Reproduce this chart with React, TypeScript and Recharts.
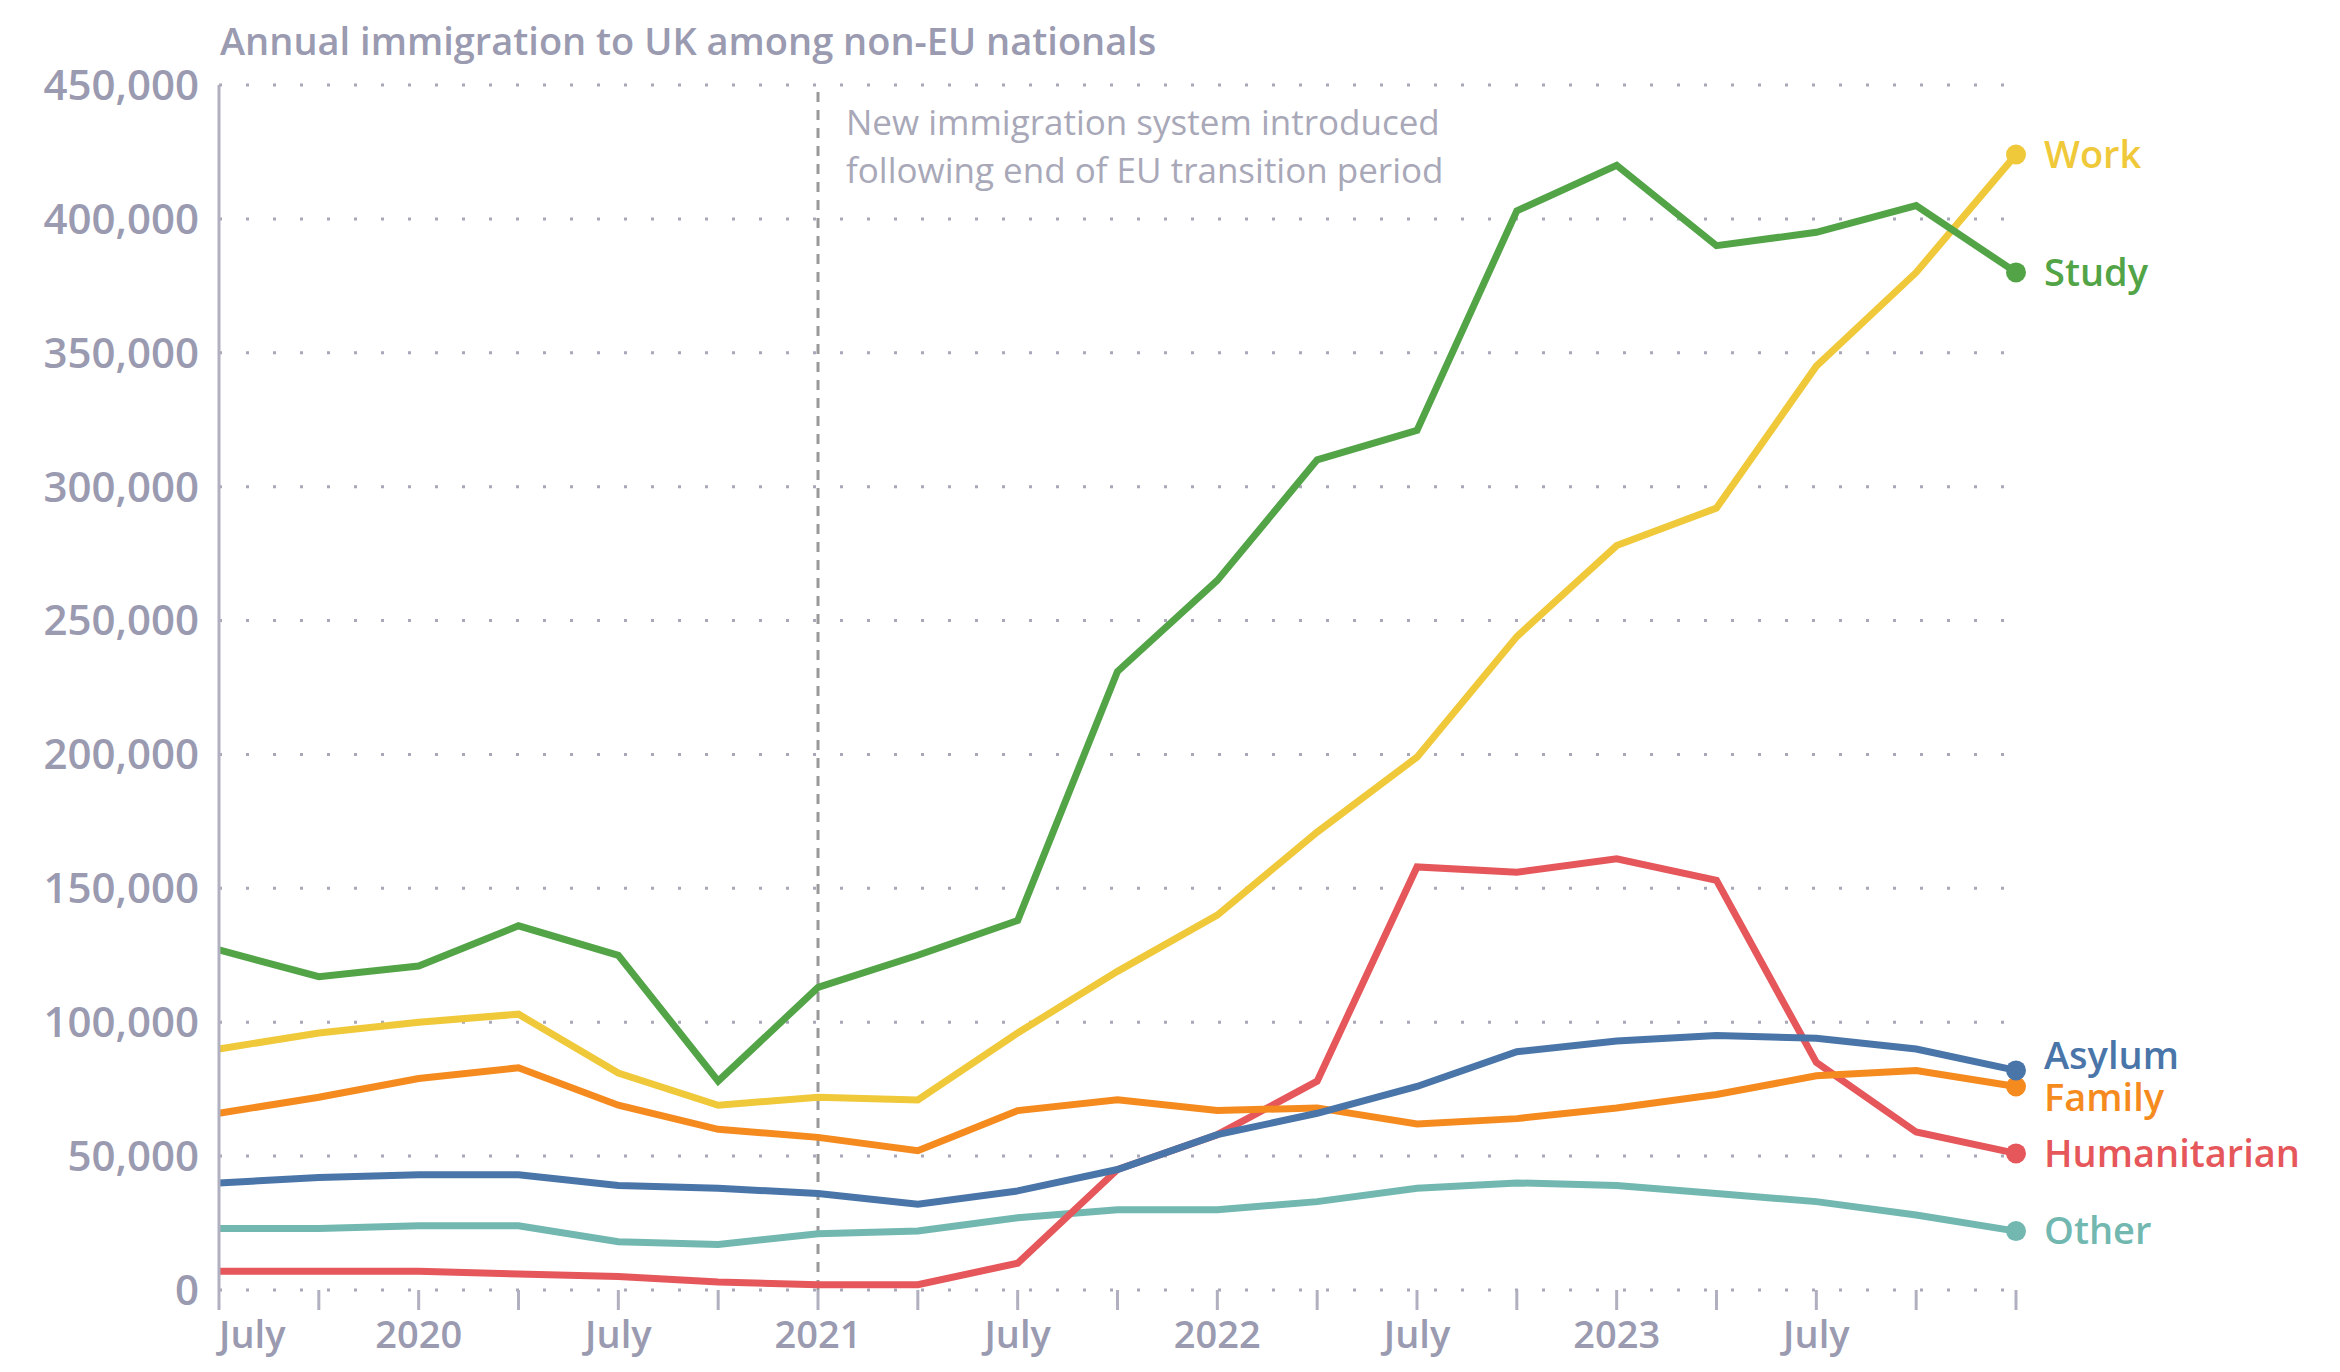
import React from "react";
import { LineChart, Line, XAxis, YAxis, CartesianGrid, ReferenceLine } from "recharts";

const quarters = [0,1,2,3,4,5,6,7,8,9,10,11,12,13,14,15,16,17,18];
const tickLabels: Record<number,string> = {0:"July",2:"2020",4:"July",6:"2021",8:"July",10:"2022",12:"July",14:"2023",16:"July"};
const study = [127,117,121,136,125,78,113,125,138,231,265,310,321,403,420,390,395,405,380];
const work = [90,96,100,103,81,69,72,71,96,119,140,171,199,244,278,292,345,380,424];
const humanitarian = [7,7,7,6,5,3,2,2,10,45,58,78,158,156,161,153,85,59,51];
const asylum = [40,42,43,43,39,38,36,32,37,45,58,66,76,89,93,95,94,90,82];
const family = [66,72,79,83,69,60,57,52,67,71,67,68,62,64,68,73,80,82,76];
const other = [23,23,24,24,18,17,21,22,27,30,30,33,38,40,39,36,33,28,22];
const yTicks = [0,50000,100000,150000,200000,250000,300000,350000,400000,450000];

const data = quarters.map((q,i)=>({q, Study:study[i]*1000, Work:work[i]*1000, Humanitarian:humanitarian[i]*1000, Asylum:asylum[i]*1000, Family:family[i]*1000, Other:other[i]*1000}));

const series = [
  {key:"Other", color:"#72b8b0", dy:0},
  {key:"Humanitarian", color:"#e5575a", dy:0},
  {key:"Family", color:"#f58b1f", dy:11},
  {key:"Asylum", color:"#4a75a8", dy:-15},
  {key:"Work", color:"#efc93a", dy:0},
  {key:"Study", color:"#52a447", dy:0},
];
const FONT = "'Open Sans', sans-serif";
const GRAY = "#9a9ab0";

const endDot = (color:string,name:string,dy:number) => (p:any) => {
  if (p.index !== quarters.length-1) return <g key={p.index}/>;
  return <g key={p.index}>
    <circle cx={p.cx} cy={p.cy} r={10} fill={color}/>
    <text x={p.cx+28} y={p.cy+dy} dy="0.35em" fill={color} fontSize={38} fontWeight={600} fontFamily={FONT}>{name}</text>
  </g>;
};

const XTick = (p:any) => {
  const v = p.payload.value;
  const lab = tickLabels[v];
  return <g>
    <line x1={p.x} x2={p.x} y1={p.y-8} y2={p.y+12} stroke="#b0b0c0" strokeWidth={3}/>
    {lab && <text x={p.x} y={p.y+50} textAnchor={v===0?"start":"middle"} fill={GRAY} fontSize={38} fontWeight={600} fontFamily={FONT}>{lab}</text>}
  </g>;
};

export default function App(){
  return <div style={{margin:-8, width:2340, height:1372, background:"#fff", position:"relative"}}>
    <div style={{position:"absolute", left:220, top:14, fontFamily:FONT, fontSize:38, fontWeight:600, color:GRAY}}>Annual immigration to UK among non-EU nationals</div>
    <LineChart width={2340} height={1372} data={data} margin={{top:85,right:324,bottom:0,left:0}}>
      <CartesianGrid vertical={false} stroke="#a8a8b8" strokeWidth={3} strokeDasharray="3 24"/>
      <XAxis dataKey="q" type="number" domain={[0,18]} ticks={quarters} tick={<XTick/>} tickLine={false} axisLine={false} height={82} interval={0}/>
      <YAxis type="number" domain={[0,450000]} ticks={yTicks} width={219} axisLine={{stroke:"#b0b0c0",strokeWidth:3}} tickLine={false}
        tickFormatter={(v:number)=>v.toLocaleString("en-US")} tick={{fill:GRAY,fontSize:42,fontWeight:600,fontFamily:FONT}} tickMargin={14}/>
      <ReferenceLine x={6} stroke="#999" strokeWidth={3} strokeDasharray="10 8"
        label={(p:any)=>{const vb=p.viewBox; return <text x={vb.x+28} y={vb.y+50} fill="#a8a8b8" fontSize={35} fontWeight={500} fontFamily={FONT}>
          <tspan x={vb.x+28}>New immigration system introduced</tspan>
          <tspan x={vb.x+28} dy={48}>following end of EU transition period</tspan></text>;}}/>
      {series.map(s=><Line key={s.key} dataKey={s.key} stroke={s.color} strokeWidth={7} isAnimationActive={false}
        dot={endDot(s.color,s.key,s.dy)} activeDot={false}/>)}
    </LineChart>
  </div>;
}
